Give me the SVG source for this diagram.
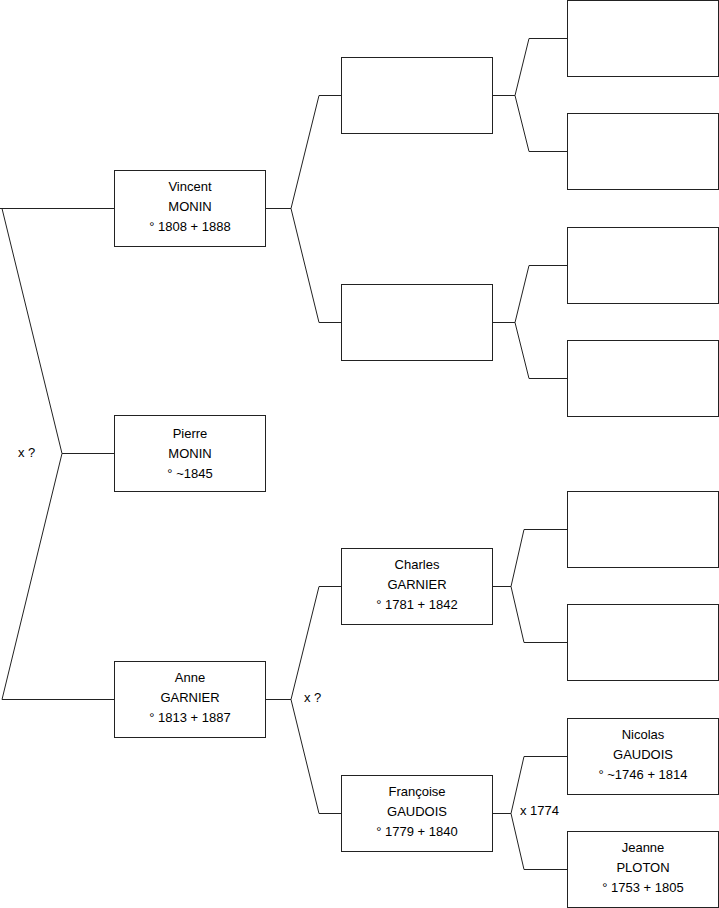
<svg xmlns="http://www.w3.org/2000/svg" width="719" height="908" viewBox="0 0 719 908">
<style>
.box{fill:#fff;stroke:#222;stroke-width:1}
.ln{fill:none;stroke:#222;stroke-width:1}
text{font-family:"Liberation Sans",Arial,sans-serif;font-size:13px;fill:#000;text-anchor:middle}
.lbl{text-anchor:start}
</style>
<rect width="719" height="908" fill="#fff"/>
<g id="connectors">
<polyline class="ln" points="0,208.5 114,208.5"/>
<polyline class="ln" points="2,208.5 62,453.5 2,699.5"/>
<polyline class="ln" points="62,453.5 114,453.5"/>
<polyline class="ln" points="2,699.5 114,699.5"/>
<polyline class="ln" points="265,208.5 291,208.5"/>
<polyline class="ln" points="341,95.5 319,95.5 291,208.5 319,322.5 341,322.5"/>
<polyline class="ln" points="265,699.5 291,699.5"/>
<polyline class="ln" points="341,586.5 319,586.5 291,699.5 319,813.5 341,813.5"/>
<polyline class="ln" points="492,95.5 515,95.5"/>
<polyline class="ln" points="567,38.5 529,38.5 515,95.5 529,151.5 567,151.5"/>
<polyline class="ln" points="492,322.5 515,322.5"/>
<polyline class="ln" points="567,265.5 529,265.5 515,322.5 529,378.5 567,378.5"/>
<polyline class="ln" points="492,586.5 511,586.5"/>
<polyline class="ln" points="567,529.5 524,529.5 511,586.5 524,642.5 567,642.5"/>
<polyline class="ln" points="492,813.5 511,813.5"/>
<polyline class="ln" points="567,756.5 524,756.5 511,813.5 524,869.5 567,869.5"/>
<text class="lbl" x="18" y="457">x ?</text>
<text class="lbl" x="304" y="702">x ?</text>
<text class="lbl" x="520" y="815">x 1774</text>
</g>
<g id="vincent"><rect class="box" x="114.5" y="170.5" width="151" height="76"/><text x="190" y="191">Vincent</text><text x="190" y="211">MONIN</text><text x="190" y="231">° 1808 + 1888</text></g>
<g id="pierre"><rect class="box" x="114.5" y="415.5" width="151" height="76"/><text x="190" y="438">Pierre</text><text x="190" y="458">MONIN</text><text x="190" y="478">° ~1845</text></g>
<g id="anne"><rect class="box" x="114.5" y="661.5" width="151" height="76"/><text x="190" y="682">Anne</text><text x="190" y="702">GARNIER</text><text x="190" y="722">° 1813 + 1887</text></g>
<g id="g2a"><rect class="box" x="341.5" y="57.5" width="151" height="76"/></g>
<g id="g2b"><rect class="box" x="341.5" y="284.5" width="151" height="76"/></g>
<g id="charles"><rect class="box" x="341.5" y="548.5" width="151" height="76"/><text x="417" y="569">Charles</text><text x="417" y="589">GARNIER</text><text x="417" y="609">° 1781 + 1842</text></g>
<g id="francoise"><rect class="box" x="341.5" y="775.5" width="151" height="76"/><text x="417" y="796">Françoise</text><text x="417" y="816">GAUDOIS</text><text x="417" y="836">° 1779 + 1840</text></g>
<g id="g3a"><rect class="box" x="567.5" y="0.5" width="151" height="76"/></g>
<g id="g3b"><rect class="box" x="567.5" y="113.5" width="151" height="76"/></g>
<g id="g3c"><rect class="box" x="567.5" y="227.5" width="151" height="76"/></g>
<g id="g3d"><rect class="box" x="567.5" y="340.5" width="151" height="76"/></g>
<g id="g3e"><rect class="box" x="567.5" y="491.5" width="151" height="76"/></g>
<g id="g3f"><rect class="box" x="567.5" y="604.5" width="151" height="76"/></g>
<g id="nicolas"><rect class="box" x="567.5" y="718.5" width="151" height="76"/><text x="643" y="739">Nicolas</text><text x="643" y="759">GAUDOIS</text><text x="643" y="779">° ~1746 + 1814</text></g>
<g id="jeanne"><rect class="box" x="567.5" y="831.5" width="151" height="76"/><text x="643" y="852">Jeanne</text><text x="643" y="872">PLOTON</text><text x="643" y="892">° 1753 + 1805</text></g>
</svg>
